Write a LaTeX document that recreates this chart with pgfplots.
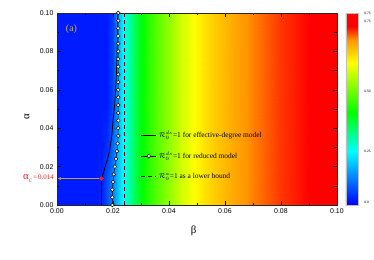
\documentclass[border=0pt]{standalone}
\usepackage{pgfplots}
\pgfplotsset{compat=1.18}
\usetikzlibrary{arrows.meta}
\usepackage{fontspec}
\setmainfont{Liberation Serif}
\newfontfamily\arial{Liberation Sans}
\definecolor{agold}{RGB}{205,180,70}
\definecolor{aolive}{RGB}{185,165,60}
\definecolor{ared}{RGB}{250,30,30}
\begin{document}
\begin{tikzpicture}
\begin{axis}[name=ax, scale only axis, width=282bp, height=193.5bp,
  xmin=0, xmax=0.1, ymin=0, ymax=0.1,
  xtick={0,0.02,0.04,0.06,0.08,0.1},
  ytick={0,0.02,0.04,0.06,0.08,0.1},
  minor x tick num=1, minor y tick num=1,
  scaled ticks=false,
  tick align=inside, major tick length=4bp, minor tick length=2.5bp,
  every tick/.style={black, line width=0.5bp},
  axis line style={line width=0.7bp, black!85},
  /pgf/number format/.cd, fixed, fixed zerofill, precision=2, assume math mode=true, /pgfplots/.cd,
  ticklabel style={font=\arial\fontsize{7}{8}\selectfont},
  xlabel={β}, ylabel={α},
  xlabel style={at={(axis description cs:0.488,-0.132)}, anchor=center, font=\fontsize{11}{12}\selectfont},
  ylabel style={at={(axis description cs:-0.107,0.46)}, anchor=center, font=\fontsize{11}{12}\selectfont},
  axis on top, clip=false,
  colormap={orig}{rgb255(0cm)=(0,0,255) rgb255(2.8cm)=(0,255,255) rgb255(4.8cm)=(0,255,0) rgb255(7.4cm)=(255,255,0) rgb255(8.6cm)=(255,150,0) rgb255(9.3cm)=(255,0,0) rgb255(10cm)=(255,0,0)},
  point meta min=0, point meta max=1,
  colorbar,
  colorbar shift/.style={xshift=-1bp},
  colorbar style={width=12bp,
    ytick={0.014,0.28,0.59,0.957,0.995},
    yticklabels={0.0,0.25,0.50,0.75,0.75},
    minor y tick num=0, major tick length=0pt,
    yticklabel style={font=\arial\fontsize{3.3}{4}\selectfont, xshift=3bp},
    axis line style={draw=gray!50, line width=0.5bp}},
  legend style={at={(0.299,0.395)}, anchor=north west, draw=none, fill=none,
    inner sep=0pt, row sep=9bp, font=\fontsize{7.5}{8.5}\selectfont},
  legend cell align=left,
  legend image code/.code={\draw[mark repeat=2,mark phase=2,#1] plot coordinates {(0bp,0bp) (7.5bp,0bp) (15bp,0bp)};},
]
\addplot[surf, shader=interp, mesh/cols=22, point meta=explicit, forget plot] table[x=b, y=a, meta=v] {
b a v
0 0 0.03
0.014 0 0.03
0.016 0 0.04
0.018 0 0.09
0.020 0 0.15
0.022 0 0.22
0.024 0 0.29
0.026 0 0.36
0.028 0 0.42
0.030 0 0.47
0.032 0 0.51
0.035 0 0.56
0.040 0 0.63
0.045 0 0.70
0.050 0 0.75
0.055 0 0.79
0.060 0 0.82
0.065 0 0.85
0.070 0 0.87
0.080 0 0.905
0.090 0 0.93
0.100 0 0.96
0 0.014 0.03
0.014 0.014 0.03
0.016 0.014 0.04
0.018 0.014 0.09
0.020 0.014 0.15
0.022 0.014 0.22
0.024 0.014 0.29
0.026 0.014 0.36
0.028 0.014 0.42
0.030 0.014 0.47
0.032 0.014 0.51
0.035 0.014 0.56
0.040 0.014 0.63
0.045 0.014 0.70
0.050 0.014 0.75
0.055 0.014 0.79
0.060 0.014 0.82
0.065 0.014 0.85
0.070 0.014 0.87
0.080 0.014 0.905
0.090 0.014 0.93
0.100 0.014 0.96
0 0.03 0.03
0.014 0.03 0.03
0.016 0.03 0.03
0.018 0.03 0.05
0.020 0.03 0.12
0.022 0.03 0.21
0.024 0.03 0.29
0.026 0.03 0.36
0.028 0.03 0.42
0.030 0.03 0.47
0.032 0.03 0.51
0.035 0.03 0.56
0.040 0.03 0.63
0.045 0.03 0.70
0.050 0.03 0.75
0.055 0.03 0.79
0.060 0.03 0.82
0.065 0.03 0.85
0.070 0.03 0.87
0.080 0.03 0.905
0.090 0.03 0.93
0.100 0.03 0.96
0 0.05 0.03
0.014 0.05 0.03
0.016 0.05 0.03
0.018 0.05 0.03
0.020 0.05 0.08
0.022 0.05 0.20
0.024 0.05 0.29
0.026 0.05 0.36
0.028 0.05 0.42
0.030 0.05 0.47
0.032 0.05 0.51
0.035 0.05 0.56
0.040 0.05 0.63
0.045 0.05 0.70
0.050 0.05 0.75
0.055 0.05 0.79
0.060 0.05 0.82
0.065 0.05 0.85
0.070 0.05 0.87
0.080 0.05 0.905
0.090 0.05 0.93
0.100 0.05 0.96
0 0.1 0.03
0.014 0.1 0.03
0.016 0.1 0.03
0.018 0.1 0.03
0.020 0.1 0.07
0.022 0.1 0.19
0.024 0.1 0.29
0.026 0.1 0.36
0.028 0.1 0.42
0.030 0.1 0.47
0.032 0.1 0.51
0.035 0.1 0.56
0.040 0.1 0.63
0.045 0.1 0.70
0.050 0.1 0.75
0.055 0.1 0.79
0.060 0.1 0.82
0.065 0.1 0.85
0.070 0.1 0.87
0.080 0.1 0.905
0.090 0.1 0.93
0.100 0.1 0.96
};
\addplot[black, line width=0.8bp] coordinates {
(0.0159,0) (0.0159,0.0138) (0.0167,0.017) (0.0175,0.0214) (0.0183,0.025)
(0.0189,0.0292) (0.0196,0.036) (0.0200,0.043) (0.0206,0.0516) (0.0210,0.060)
(0.0213,0.070) (0.0215,0.081) (0.0217,0.1)};
\addlegendentry{$\mathcal{R}_0^{ds}$=1 for effective-degree model}
\addplot[black, line width=0.5bp, mark=*, mark size=1.9bp, mark options={fill=white, draw=black, line width=0.5bp}] coordinates {
(0.0198,0) (0.0198,0.004) (0.0198,0.008) (0.0201,0.012) (0.0203,0.016)
(0.0207,0.020) (0.0211,0.024) (0.0214,0.028) (0.0217,0.032) (0.0219,0.036)
(0.0219,0.040) (0.0219,0.044) (0.0219,0.048) (0.0219,0.052) (0.0219,0.056)
(0.0219,0.060) (0.0219,0.064) (0.0219,0.068) (0.0219,0.072) (0.0219,0.076)
(0.0219,0.080) (0.0219,0.084) (0.0219,0.088) (0.0219,0.092) (0.0219,0.096)
(0.0219,0.100)};
\addlegendentry{$\mathcal{R}_0^{ds}$=1 for reduced model}
\addplot[black, line width=1.1bp, dash pattern=on 4bp off 3bp] coordinates {(0.0241,0) (0.0241,0.1)};
\addlegendentry{$\mathcal{R}_0^{a}$=1 as a lower bound}
\addplot[aolive, line width=0.6bp, -{Stealth[length=3bp, width=3bp, fill=yellow]}, forget plot] coordinates {(0.0159,0.0138) (0.0004,0.0138)};
\addplot[only marks, mark=*, mark size=2bp, ared, forget plot] coordinates {(0.0159,0.0138)};
\node[agold, font=\fontsize{10}{12}\selectfont] at (rel axis cs:0.052,0.917) {(a)};
\node[anchor=east, ared, inner sep=0pt, xshift=-3bp] at (axis cs:0,0.0138)
  {{\fontsize{11}{12}\selectfont α}\raisebox{-2.5bp}{\fontsize{7}{8}\selectfont c}{\fontsize{7}{8}\selectfont\,=\,0.014}};
\end{axis}
\path (ax.south west) ++(-57.3bp,-54.5bp) rectangle ++(374bp,261bp);
\end{tikzpicture}
\end{document}
